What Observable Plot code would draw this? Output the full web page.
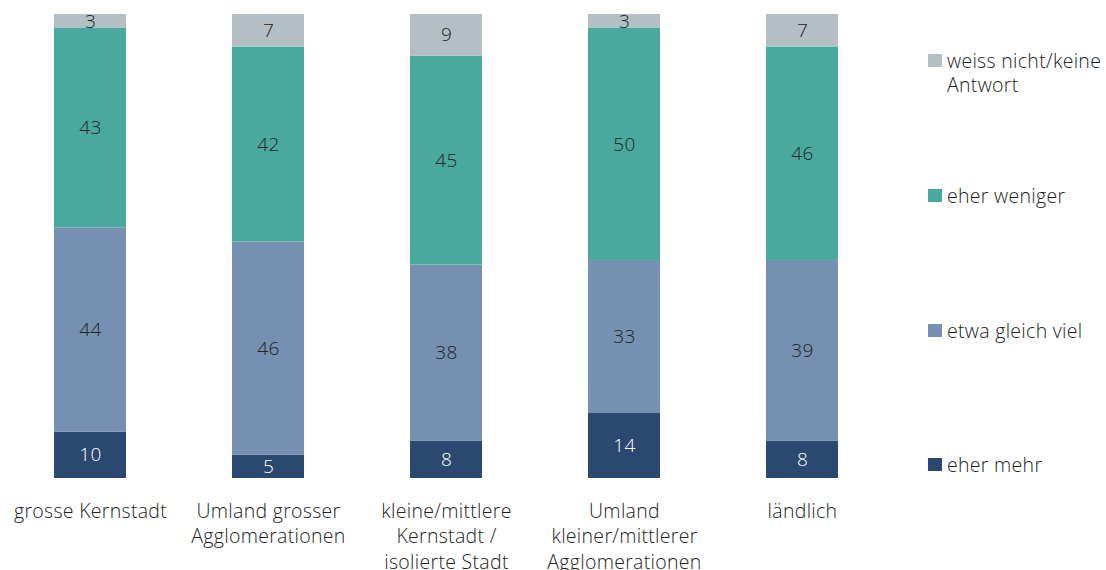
<!DOCTYPE html>
<html><head><meta charset="utf-8">
<script src="https://cdn.jsdelivr.net/npm/d3@7"></script>
<script src="https://cdn.jsdelivr.net/npm/@observablehq/plot@0.6"></script>
<style>
body{margin:0;background:#fff;font-family:"Open Sans",Arial,sans-serif;}
#wrap{position:relative;width:1106px;height:570px;overflow:hidden;}
#legend{position:absolute;left:928px;top:0;width:178px;font-size:19.5px;font-weight:300;letter-spacing:0.3px;color:#222;}
.li{position:absolute;left:0;display:flex;align-items:flex-start;line-height:23.5px;white-space:nowrap;}
.sw{width:14px;height:13px;margin-top:5px;margin-right:5px;flex:none;}
svg text{font-weight:300;letter-spacing:0.3px;}
</style></head>
<body><div id="wrap"><div id="chart"></div><div id="legend"></div></div>
<script>
const categories = ["grosse Kernstadt", "Umland grosser Agglomerationen", "kleine/mittlere Kernstadt / isolierte Stadt", "Umland kleiner/mittlerer Agglomerationen", "ländlich"];
const categoryLabels = ["grosse Kernstadt", "Umland grosser\nAgglomerationen", "kleine/mittlere\nKernstadt /\nisolierte Stadt", "Umland\nkleiner/mittlerer\nAgglomerationen", "ländlich"];
const seriesNames = ["eher mehr", "etwa gleich viel", "eher weniger", "weiss nicht/keine Antwort"];
const eherMehr = [10, 5, 8, 14, 8];
const etwaGleich = [44, 46, 38, 33, 39];
const eherWeniger = [43, 42, 45, 50, 46];
const weissNicht = [3, 7, 9, 3, 7];
const colors = ["#2b4870", "#7590b0", "#4aa99e", "#b4bec5"];
const legendLabels = ["eher mehr", "etwa gleich viel", "eher weniger", "weiss nicht/keine\nAntwort"];

const seriesValues = [eherMehr, etwaGleich, eherWeniger, weissNicht];
const rows = [];
seriesValues.forEach((vals, si) => vals.forEach((v, ci) => rows.push({cat: categories[ci], series: seriesNames[si], value: v})));

const chart = Plot.plot({
  width: 1106, height: 570,
  marginTop: 14, marginBottom: 92, marginLeft: 0, marginRight: 215,
  style: {fontFamily: "Open Sans, Arial, sans-serif", fontSize: "19px", color: "#222"},
  x: {domain: categories, paddingInner: 0.596, paddingOuter: 0.298, label: null},
  y: {domain: [0, 100], axis: null},
  color: {domain: seriesNames, range: colors},
  marks: [
    Plot.barY(rows, Plot.stackY({x: "cat", y: "value", z: "series", fill: "series", order: seriesNames})),
    Plot.text(rows, Plot.stackY({x: "cat", y: "value", z: "series", text: d => String(d.value), order: seriesNames,
      fill: d => d.series === "eher mehr" ? "#ffffff" : "#222222", fontSize: 19})),
    Plot.axisX({tickSize: 0, tickPadding: 21, lineHeight: 1.31, fontSize: 19.5, fill: "#222",
      tickFormat: c => categoryLabels[categories.indexOf(c)]})
  ]
});
document.getElementById("chart").appendChild(chart);

const legendTops = [453, 319, 184, 49];
const leg = document.getElementById("legend");
seriesNames.slice().reverse().forEach((s) => {
  const i = seriesNames.indexOf(s);
  const item = document.createElement("div");
  item.className = "li";
  item.style.top = legendTops[i] + "px";
  const sw = document.createElement("div");
  sw.className = "sw"; sw.style.background = colors[i];
  const tx = document.createElement("div");
  tx.innerHTML = legendLabels[i].replace("\n", "<br>");
  item.appendChild(sw); item.appendChild(tx);
  leg.appendChild(item);
});
</script></body></html>
